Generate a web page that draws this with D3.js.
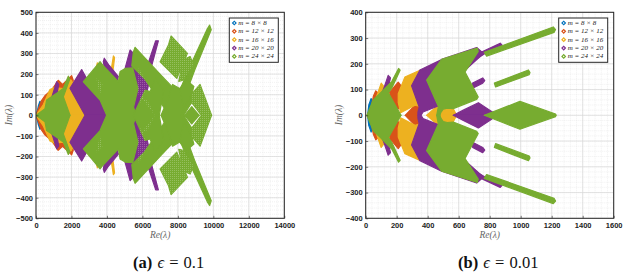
<!DOCTYPE html>
<html>
<head>
<meta charset="utf-8">
<script src="https://cdn.jsdelivr.net/npm/d3@7"></script>
<style>
	body { margin: 0; background: #fff; }
	svg { display: block; }
	text { font-family: "Liberation Sans", Arial, sans-serif; }
	.serif { font-family: "Liberation Serif", serif; }
</style>
</head>
<body>
<div id="chart"></div>
<script>
var seriesNames = ["m = 8 × 8", "m = 12 × 12", "m = 16 × 16", "m = 20 × 20", "m = 24 × 24"];
var seriesColors = ["#0072bd", "#d95319", "#edb120", "#7e2f8e", "#77ac30"];

// upper half of each eigenvalue cloud [Re, Im]; the lower half is its conjugate
var a_m8 = [
	[[30,0],[131,45],[225,68],[330,50],[300,0]]
];
var a_m12 = [
	[[0,0],[300,70],[500,95],[900,125],[1250,170],[1500,150],[2010,192],[2100,170],[2000,100],[1000,0]]
];
var a_m16 = [
	[[0,0],[400,50],[789,125],[1050,135],[1540,130],[1850,175],[2000,170],[2763,18],[2763,0]],
	[[3300,200],[3460,255],[3550,230],[4200,200],[4363,288],[4430,280],[4300,190],[3500,130]]
];
var a_m20 = [
	[[900,90],[1165,163],[1280,150],[1100,60]],
	[[1917,131],[2575,222],[2857,179],[3100,140],[3700,75],[4000,15],[4000,0],[2763,0]],
	[[3799,262],[3850,277],[4100,245],[4645,188],[4500,150],[3900,200]],
	[[5023,228],[5305,317],[5500,300],[6339,147],[6100,50],[5600,0],[5000,100]],
	[[6200,220],[6750,362],[6900,362],[6396,200],[6200,130]]
];
var a_m24 = [
	[[10,0],[507,32],[600,74],[1165,107],[1540,130],[1823,190],[1900,175],[1541,90],[1917,0]],
	[[2670,163],[3611,260],[3800,240],[4645,163],[4739,212],[5050,228],[5450,230],[5750,130],[5500,40],[5650,0],[3985,0],[3611,74]],
	[[5493,309],[5587,330],[7100,190],[8100,100],[8000,0],[7500,0],[6900,80],[6100,180],[5400,240]],
	[[9660,420],[9790,438],[9880,415],[8950,220],[8000,0],[7500,0],[8700,240]],
	[[5493,0],[6151,122],[6433,115],[6715,179],[7200,120],[6950,0]],
	[[7050,0],[7450,80],[7700,150],[8300,120],[8500,60],[8300,0]],
	[[7617,385],[8539,301],[7937,179],[6997,260],[7467,341]],
	[[8300,270],[8690,285],[8880,245],[8300,170],[8050,165]],
	[[8100,130],[8500,170],[8900,140],[8689,70],[8330,30]],
	[[9250,150],[9900,0],[9330,0],[8780,62],[8330,0],[8150,0],[8750,100]],
	[[8780,42],[9200,0],[8380,0]]
];
// thinly filled stretches of the clouds, where single points can still be told apart
var a_sparse = [
	[[7617,385],[8539,301],[7937,179],[6997,260],[7467,341]],
	[[8300,270],[8690,285],[8880,245],[8300,170],[8050,165]],
	[[9250,150],[9900,0],[9330,0],[8780,62],[8750,100]],
	[[5800,230],[6300,150],[5900,60],[5700,130]],
	[[5900,90],[6700,0],[6300,70]],
	[[3400,180],[3750,150],[3600,100]]
];
var b_sparse = [];

var b_m8 = [
	[[12,0],[20,40],[35,65],[50,40],[30,0]]
];
var b_m12 = [
	[[25,0],[50,75],[65,95],[110,70],[60,0]],
	[[146,84],[210,129],[226,116],[210,84],[226,39],[200,17],[157,58]],
	[[255,0],[318,39],[345,35],[345,0]]
];
var b_m16 = [
	[[30,0],[80,90],[100,125],[150,85],[80,0]],
	[[210,84],[253,149],[350,175],[365,60],[345,35],[318,39],[225,10],[210,50]],
	[[394,0],[469,40],[500,30],[526,34],[565,25],[587,0]]
];
var b_m20 = [
	[[50,0],[120,110],[145,155],[160,145],[130,70]],
	[[296,115],[350,176],[490,217],[716,263],[760,240],[640,175],[479,39],[370,13],[357,0],[337,0],[337,12],[345,32]],
	[[737,243],[868,280],[880,272],[770,240],[694,212]],
	[[690,125],[755,145],[768,135],[755,125],[690,105]],
	[[565,0],[630,20],[727,49],[800,20],[850,0]]
];
var b_m24 = [
	[[8,0],[49,60],[92,85],[168,131],[212,182],[222,175],[168,105],[146,87],[228,0]],
	[[393,137],[490,217],[720,261],[726,248],[641,168],[726,71],[716,62],[565,26],[526,28],[500,24],[484,10],[479,0],[458,0],[469,34]],
	[[765,245],[1210,343],[1225,333],[1215,322],[780,230]],
	[[830,125],[1050,176],[1060,166],[1055,158],[838,110]],
	[[765,0],[995,54],[1225,5],[1228,0]]
];

var panels = [
	{ left: 36, right: 284.3, title: "(a)", cap: "0.1", capX: 133, xMax: 14000, xStep: 2000, xMinor: 400, yMax: 500, yStep: 100, yMinor: 20,
		series: [a_m8, a_m12, a_m16, a_m20, a_m24], sparse: a_sparse, legendX: 229.3 },
	{ left: 365.7, right: 613.7, title: "(b)", cap: "0.01", capX: 458, xMax: 1600, xStep: 200, xMinor: 40, yMax: 400, yStep: 100, yMinor: 20,
		series: [b_m8, b_m12, b_m16, b_m20, b_m24], sparse: b_sparse, legendX: 558.7 }
];

var top_ = 12.3, bottom = 218.3;

var svg = d3.select("#chart").append("svg").attr("width", 635).attr("height", 275);

// specks for the thin stretches
var speck = svg.append("defs").append("pattern").attr("id", "speck")
	.attr("width", 2).attr("height", 2).attr("patternUnits", "userSpaceOnUse");
speck.append("rect").attr("width", 0.8).attr("height", 0.8).attr("fill", "#fff").attr("opacity", 0.35);

panels.forEach(function(p, pi){
	var x = d3.scaleLinear().domain([0, p.xMax]).range([p.left, p.right]);
	var y = d3.scaleLinear().domain([-p.yMax, p.yMax]).range([bottom, top_]);
	var g = svg.append("g");
	var clipId = "clip" + pi;
	g.append("clipPath").attr("id", clipId).append("rect")
		.attr("x", p.left).attr("y", top_).attr("width", p.right - p.left).attr("height", bottom - top_);

	// grid
	var xMinorTicks = d3.range(0, p.xMax + 1, p.xMinor), yMinorTicks = d3.range(-p.yMax, p.yMax + 1, p.yMinor);
	var xTicks = d3.range(0, p.xMax + 1, p.xStep), yTicks = d3.range(-p.yMax, p.yMax + 1, p.yStep);
	g.selectAll(".vm").data(xMinorTicks).enter().append("line")
		.attr("x1", x).attr("x2", x).attr("y1", top_).attr("y2", bottom)
		.attr("stroke", "#e2e2e2").attr("stroke-width", 0.5).attr("stroke-dasharray", "1,1");
	g.selectAll(".hm").data(yMinorTicks).enter().append("line")
		.attr("y1", y).attr("y2", y).attr("x1", p.left).attr("x2", p.right)
		.attr("stroke", "#e2e2e2").attr("stroke-width", 0.5).attr("stroke-dasharray", "1,1");
	g.selectAll(".vg").data(xTicks).enter().append("line")
		.attr("x1", x).attr("x2", x).attr("y1", top_).attr("y2", bottom)
		.attr("stroke", "#d8d8d8").attr("stroke-width", 0.7);
	g.selectAll(".hg").data(yTicks).enter().append("line")
		.attr("y1", y).attr("y2", y).attr("x1", p.left).attr("x2", p.right)
		.attr("stroke", "#d8d8d8").attr("stroke-width", 0.7);

	// clouds, drawn in legend order so the larger m lie on top
	var line = d3.line().x(function(d){ return x(d[0]); }).y(function(d){ return y(d[1]); }).curve(d3.curveLinearClosed);
	var marks = g.append("g").attr("clip-path", "url(#" + clipId + ")");
	function conj(d, sign){ return line(d.map(function(q){ return [q[0], sign * q[1]]; })); }
	p.series.forEach(function(polys, si){
		[1, -1].forEach(function(sign){
			marks.selectAll(null).data(polys).enter().append("path")
				.attr("d", function(d){ return conj(d, sign); })
				.attr("fill", seriesColors[si])
				.attr("stroke", seriesColors[si])
				.attr("stroke-width", 1.2)
				.attr("stroke-linejoin", "round");
		});
	});
	[1, -1].forEach(function(sign){
		marks.selectAll(null).data(p.sparse).enter().append("path")
			.attr("d", function(d){ return conj(d, sign); })
			.attr("fill", "url(#speck)");
	});

	// axes
	var xAxis = d3.axisBottom(x).tickValues(xTicks).tickSize(-2.5).tickPadding(4).tickFormat(d3.format("d"));
	var yAxis = d3.axisLeft(y).tickValues(yTicks).tickSize(-2.5).tickPadding(3).tickFormat(d3.format("d"));
	[g.append("g").attr("transform", "translate(0," + bottom + ")").call(xAxis),
	 g.append("g").attr("transform", "translate(" + p.left + ",0)").call(yAxis)].forEach(function(a){
		a.selectAll("text").style("font-size", "7.5px").style("font-weight", "bold").attr("fill", "#222").style("font-family", "'Liberation Sans'");
		a.selectAll("line").attr("stroke", "#222").attr("stroke-width", 0.6);
		a.select(".domain").remove();
	});
	g.append("rect").attr("x", p.left).attr("y", top_).attr("width", p.right - p.left).attr("height", bottom - top_)
		.attr("fill", "none").attr("stroke", "#262626").attr("stroke-width", 1);

	// axis labels
	var mid = (p.left + p.right) / 2;
	g.append("text").attr("class", "serif").attr("x", mid).attr("y", 238).attr("text-anchor", "middle")
		.attr("fill", "#666").style("font-size", "9.5px").style("font-style", "italic").text("Re(λ)");
	g.append("text").attr("class", "serif").attr("transform", "translate(" + (p.left - 24) + ",115) rotate(-90)").attr("text-anchor", "middle")
		.attr("fill", "#666").style("font-size", "9.5px").style("font-style", "italic").text("Im(λ)");

	// legend
	var lg = g.append("g").attr("transform", "translate(" + p.legendX + ",18)");
	lg.append("rect").attr("width", 49).attr("height", 44.3).attr("fill", "#fff").attr("stroke", "#262626").attr("stroke-width", 1);
	seriesNames.forEach(function(name, i){
		var ry = 5 + i * 8.35;
		lg.append("path").attr("d", d3.symbol(d3.symbolSquare, 6)())
			.attr("transform", "translate(5," + ry + ") rotate(45)")
			.attr("fill", "none").attr("stroke", seriesColors[i]).attr("stroke-width", 1.2);
		lg.append("text").attr("class", "serif").attr("x", 9).attr("y", ry + 2)
			.attr("fill", "#222").style("font-size", "7px").style("font-style", "italic").text(name);
	});

	// caption
	var cap = g.append("text").attr("class", "serif").attr("x", p.capX).attr("y", 267.5).attr("fill", "#111")
		.style("font-size", "16.5px").attr("xml:space", "preserve").style("word-spacing", "1px");
	cap.append("tspan").style("font-weight", "bold").text(p.title + " ");
	cap.append("tspan").style("font-style", "italic").text("ϵ");
	cap.append("tspan").text(" = " + p.cap);
});
</script>
</body>
</html>
